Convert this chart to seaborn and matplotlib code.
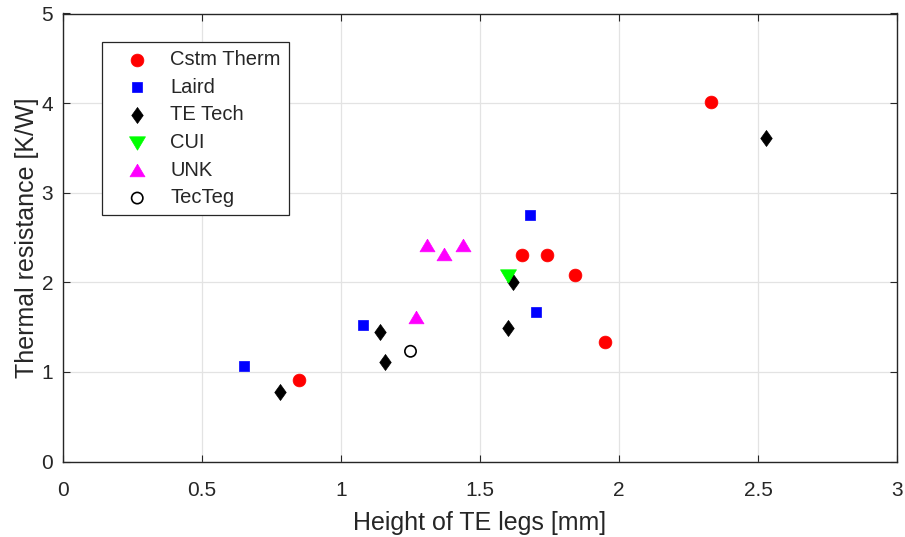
import numpy as np
import pandas as pd
import matplotlib
matplotlib.use("Agg")
import matplotlib.pyplot as plt
import seaborn as sns

# ---- data ----
cstm_x = [0.85, 1.65, 1.74, 1.84, 1.95, 2.33]
cstm_y = [0.91, 2.30, 2.31, 2.08, 1.33, 4.01]
laird_x = [0.65, 1.08, 1.68, 1.70]
laird_y = [1.07, 1.52, 2.75, 1.67]
tetech_x = [0.78, 1.14, 1.16, 1.60, 1.62, 2.53]
tetech_y = [0.78, 1.44, 1.11, 1.49, 2.00, 3.61]
cui_x = [1.60]
cui_y = [2.07]
unk_x = [1.27, 1.31, 1.37, 1.44]
unk_y = [1.61, 2.42, 2.32, 2.42]
tecteg_x = [1.25]
tecteg_y = [1.23]

groups = ["Cstm Therm", "Laird", "TE Tech", "CUI", "UNK", "TecTeg"]
xs = [cstm_x, laird_x, tetech_x, cui_x, unk_x, tecteg_x]
ys = [cstm_y, laird_y, tetech_y, cui_y, unk_y, tecteg_y]

x_ticks = [0, 0.5, 1, 1.5, 2, 2.5, 3]
x_tick_labels = ["0", "0.5", "1", "1.5", "2", "2.5", "3"]
y_ticks = [0, 1, 2, 3, 4, 5]
y_tick_labels = ["0", "1", "2", "3", "4", "5"]

df = pd.DataFrame({
    "x": [v for xl in xs for v in xl],
    "y": [v for yl in ys for v in yl],
    "maker": [g for g, xl in zip(groups, xs) for _ in xl],
})

# ---- styles ----
diamond = [(0, 0.5), (0.36, 0), (0, -0.5), (-0.36, 0), (0, 0.5)]
tri_up = [(0, 0.42), (0.5, -0.42), (-0.5, -0.42), (0, 0.42)]
tri_dn = [(0, -0.42), (0.5, 0.42), (-0.5, 0.42), (0, -0.42)]
styles = {
    "Cstm Therm": dict(marker="o", s=85, color="#ff0000", edgecolor="#ff0000", linewidth=0.5),
    "Laird": dict(marker="s", s=42, color="#0000ff", edgecolor="#0000ff", linewidth=0.5),
    "TE Tech": dict(marker=diamond, s=132, color="#000000", edgecolor="#000000", linewidth=0.5),
    "CUI": dict(marker=tri_dn, s=132, color="#00ff00", edgecolor="#00ff00", linewidth=0.5),
    "UNK": dict(marker=tri_up, s=117, color="#ff00ff", edgecolor="#ff00ff", linewidth=0.5),
    "TecTeg": dict(marker="o", s=66, facecolor="none", edgecolor="#000000", linewidth=1.2),
}

sns.set_theme(style="white")
plt.rcParams["font.family"] = ["Liberation Sans", "DejaVu Sans"]

fig = plt.figure(figsize=(9.05, 5.37), dpi=100)
ax = fig.add_axes([63 / 905, 1 - 461.5 / 537, 834 / 905, 448 / 537])

for g in groups:
    sub = df[df["maker"] == g]
    sns.scatterplot(data=sub, x="x", y="y", ax=ax, label=g, zorder=3, **styles[g])

ax.set_xlim(0, 3)
ax.set_ylim(0, 5)
ax.set_xticks(x_ticks)
ax.set_xticklabels(x_tick_labels)
ax.set_yticks(y_ticks)
ax.set_yticklabels(y_tick_labels)

txt = "#262626"
ax.grid(True, color="#e3e3e3", linewidth=0.9, zorder=0)
ax.set_axisbelow(True)
for sp in ax.spines.values():
    sp.set_visible(True)
    sp.set_color(txt)
    sp.set_linewidth(1.0)
ax.tick_params(axis="both", which="both", direction="in", length=5, width=0.8,
               colors=txt, labelsize=15, top=True, right=True,
               bottom=True, left=True)
ax.tick_params(axis="x", pad=14)
ax.tick_params(axis="y", pad=7)

ax.set_xlabel("Height of TE legs [mm]", fontsize=18, color=txt, labelpad=8)
ax.set_ylabel("Thermal resistance [K/W]", fontsize=18, color=txt, labelpad=2)

leg = ax.legend(loc="upper left", bbox_to_anchor=(39 / 834, (461.5 - 42) / 448),
                borderaxespad=0, fontsize=14.5, frameon=True, fancybox=False,
                framealpha=1, edgecolor=txt, borderpad=0.4, handlelength=2.7,
                handletextpad=0.3, labelspacing=0.43, scatterpoints=1)
leg.get_frame().set_linewidth(0.9)
for t in leg.get_texts():
    t.set_color(txt)

fig.savefig("out.png", dpi=100)
